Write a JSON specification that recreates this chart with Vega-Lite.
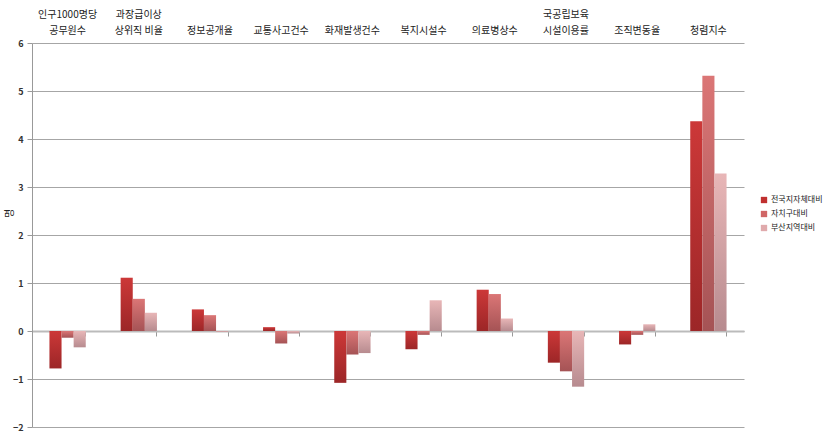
{
  "$schema": "https://vega.github.io/schema/vega-lite/v6.json",
  "autosize": "none",
  "width": 712,
  "height": 384,
  "padding": {"left": 32, "top": 43, "right": 81, "bottom": 5},
  "background": "white",
  "config": {
    "view": {"stroke": null},
    "font": "Noto Sans CJK KR",
    "axis": {"labelFont": "Noto Sans CJK KR", "titleFont": "Noto Sans CJK KR"},
    "legend": {"labelFont": "Noto Sans CJK KR"}
  },
  "data": {
    "values": [
      {"category": "인구1000명당\n공무원수", "series": "전국지자체대비", "value": -0.78},
      {"category": "인구1000명당\n공무원수", "series": "자치구대비", "value": -0.14},
      {"category": "인구1000명당\n공무원수", "series": "부산지역대비", "value": -0.34},
      {"category": "과장급이상\n상위직 비율", "series": "전국지자체대비", "value": 1.11},
      {"category": "과장급이상\n상위직 비율", "series": "자치구대비", "value": 0.67},
      {"category": "과장급이상\n상위직 비율", "series": "부산지역대비", "value": 0.38},
      {"category": "정보공개율", "series": "전국지자체대비", "value": 0.45},
      {"category": "정보공개율", "series": "자치구대비", "value": 0.33},
      {"category": "정보공개율", "series": "부산지역대비", "value": -0.02},
      {"category": "교통사고건수", "series": "전국지자체대비", "value": 0.08},
      {"category": "교통사고건수", "series": "자치구대비", "value": -0.26},
      {"category": "교통사고건수", "series": "부산지역대비", "value": -0.05},
      {"category": "화재발생건수", "series": "전국지자체대비", "value": -1.08},
      {"category": "화재발생건수", "series": "자치구대비", "value": -0.49},
      {"category": "화재발생건수", "series": "부산지역대비", "value": -0.46},
      {"category": "복지시설수", "series": "전국지자체대비", "value": -0.38},
      {"category": "복지시설수", "series": "자치구대비", "value": -0.08},
      {"category": "복지시설수", "series": "부산지역대비", "value": 0.64},
      {"category": "의료병상수", "series": "전국지자체대비", "value": 0.86},
      {"category": "의료병상수", "series": "자치구대비", "value": 0.77},
      {"category": "의료병상수", "series": "부산지역대비", "value": 0.26},
      {"category": "국공립보육\n시설이용률", "series": "전국지자체대비", "value": -0.66},
      {"category": "국공립보육\n시설이용률", "series": "자치구대비", "value": -0.84},
      {"category": "국공립보육\n시설이용률", "series": "부산지역대비", "value": -1.16},
      {"category": "조직변동율", "series": "전국지자체대비", "value": -0.28},
      {"category": "조직변동율", "series": "자치구대비", "value": -0.08},
      {"category": "조직변동율", "series": "부산지역대비", "value": 0.14},
      {"category": "청렴지수", "series": "전국지자체대비", "value": 4.37},
      {"category": "청렴지수", "series": "자치구대비", "value": 5.32},
      {"category": "청렴지수", "series": "부산지역대비", "value": 3.28}
    ]
  },
  "layer": [
    {
      "mark": {"type": "bar"},
      "encoding": {
        "x": {
          "field": "category", "type": "nominal", "sort": null,
          "scale": {"paddingInner": 0.49, "paddingOuter": 0.245},
          "axis": {
            "orient": "top", "title": null, "domain": false, "ticks": false,
            "labelAngle": 0, "labelFontSize": 10, "labelColor": "#222",
            "labelPadding": 24, "labelLineHeight": 16,
            "labelExpr": "indexof(datum.label, '\\n') >= 0 ? split(datum.label, '\\n') : ['', datum.label]"
          }
        },
        "xOffset": {"field": "series", "type": "nominal", "scale": {"domain": ["전국지자체대비", "자치구대비", "부산지역대비"]}},
        "y": {
          "field": "value", "type": "quantitative",
          "scale": {"domain": [-2, 6], "nice": false, "zero": false},
          "axis": {
            "title": "명", "titleFontSize": 10, "titleFontWeight": "normal", "titleColor": "#222",
            "titleAngle": -90, "titleBaseline": "middle", "titleX": -23, "titleY": 170,
            "values": [-2, -1, 0, 1, 2, 3, 4, 5, 6],
            "labelFontSize": 9, "labelFontWeight": "bold", "labelColor": "#333", "labelPadding": 4,
            "tickSize": 5, "tickColor": "#999", "domainColor": "#999",
            "gridColor": "#a6a6a6", "gridWidth": 1
          }
        },
        "fill": {
          "condition": [
            {"test": "datum.series === '전국지자체대비'", "value": {"gradient": "linear", "x1": 0, "y1": 0, "x2": 0, "y2": 1, "stops": [{"offset": 0, "color": "#cc3838"}, {"offset": 1, "color": "#9c2627"}]}},
            {"test": "datum.series === '자치구대비'", "value": {"gradient": "linear", "x1": 0, "y1": 0, "x2": 0, "y2": 1, "stops": [{"offset": 0, "color": "#db7676"}, {"offset": 1, "color": "#a55355"}]}}
          ],
          "value": {"gradient": "linear", "x1": 0, "y1": 0, "x2": 0, "y2": 1, "stops": [{"offset": 0, "color": "#e8b6b7"}, {"offset": 1, "color": "#b78b8f"}]}
        }
      }
    },
    {
      "mark": {"type": "tick", "opacity": 0},
      "encoding": {
        "x": {
          "field": "category", "type": "nominal", "sort": null,
          "axis": {
            "orient": "bottom", "offset": -96, "title": null, "labels": false,
            "bandPosition": 1, "tickSize": 5, "tickColor": "#999",
            "domainColor": "#bbb", "domainWidth": 2, "grid": false
          }
        },
        "y": {"datum": 0, "type": "quantitative"},
        "color": {
          "field": "series", "type": "nominal",
          "sort": ["전국지자체대비", "자치구대비", "부산지역대비"],
          "scale": {"domain": ["전국지자체대비", "자치구대비", "부산지역대비"], "range": ["#c0302f", "#d06666", "#e0aaac"]},
          "legend": {
            "title": null, "orient": "none", "legendX": 728, "legendY": 153,
            "symbolType": "square", "symbolSize": 40, "symbolStrokeWidth": 0, "symbolOpacity": 1,
            "labelFontSize": 8, "labelColor": "#222", "rowPadding": 6, "labelOffset": 3
          }
        }
      }
    }
  ],
  "resolve": {"axis": {"x": "independent"}}
}
